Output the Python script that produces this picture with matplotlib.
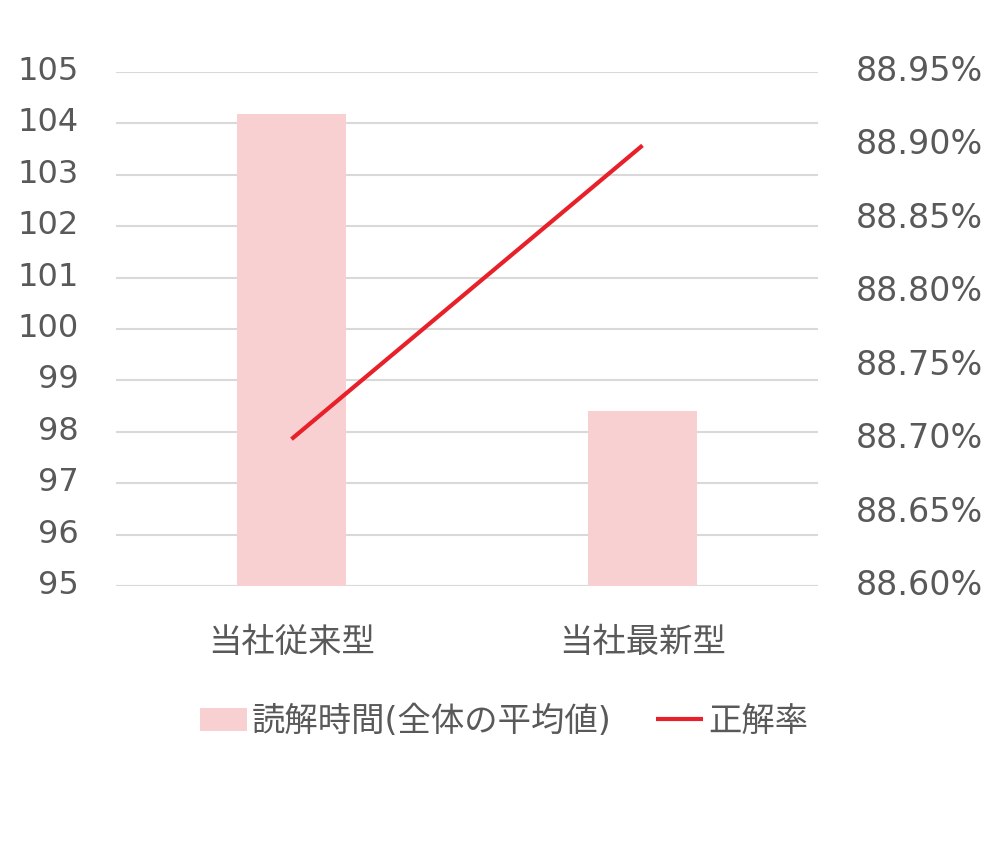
import numpy as np
import matplotlib
matplotlib.use('Agg')
from matplotlib import pyplot as plt
from matplotlib.ticker import FuncFormatter
from matplotlib.transforms import ScaledTranslation

plt.rcParams['font.family'] = ['DejaVu Sans', 'Noto Sans CJK JP']

categories = ['当社従来型', '当社最新型']
read_time = [104.18, 98.4]          # 読解時間(全体の平均値)
accuracy = [88.70, 88.90]           # 正解率 (%)
left_ticks = np.arange(95, 106, 1)
right_ticks = [88.60, 88.65, 88.70, 88.75, 88.80, 88.85, 88.90, 88.95]

text_col = '#595959'
bar_col = '#F9D0D2'
line_col = '#E8202A'

fig = plt.figure(figsize=(10, 8.5), dpi=100)
ax = fig.add_axes([0.116, 0.3106, 0.702, 0.6047])
ax2 = ax.twinx()

x = np.arange(len(categories))
bars = ax.bar(x, np.array(read_time) - 95, bottom=95, width=0.313, color=bar_col,
              label='読解時間(全体の平均値)', zorder=2)
line, = ax2.plot(x, accuracy, color=line_col, lw=3, label='正解率', solid_capstyle='butt')

ax.set_xlim(-0.5, 1.5)
ax.set_ylim(95, 105)
ax.set_yticks(left_ticks)
ax2.set_ylim(88.60, 88.95)
ax2.set_yticks(right_ticks)
ax2.yaxis.set_major_formatter(FuncFormatter(lambda v, p: '%.2f%%' % v))

ax.set_axisbelow(True)
ax.yaxis.grid(True, color='#D9D9D9', lw=1.5)
for a in (ax, ax2):
    for s in a.spines.values():
        s.set_visible(False)
    a.tick_params(length=0, labelsize=23, colors=text_col)
ax.tick_params(axis='y', pad=27)
ax2.tick_params(axis='y', pad=27, labelsize=24)
ax.axhline(95, color='#D9D9D9', lw=1.5, zorder=1)

# y labels sit a little above their gridlines in the original
shift = ScaledTranslation(0, 0.04, fig.dpi_scale_trans)
for lab in ax.get_yticklabels() + ax2.get_yticklabels():
    lab.set_transform(lab.get_transform() + shift)

ax.set_xticks(x)
ax.set_xticklabels(categories, fontsize=24, color=text_col)
ax.tick_params(axis='x', pad=29)

fig.legend(handles=[bars, line], loc='center', bbox_to_anchor=(0.504, 0.151), ncol=2,
           frameon=False, fontsize=24, labelcolor=text_col, handlelength=1.4,
           handleheight=0.7, handletextpad=0.15, columnspacing=1.35)

fig.savefig('out.png', dpi=100, facecolor='white')
